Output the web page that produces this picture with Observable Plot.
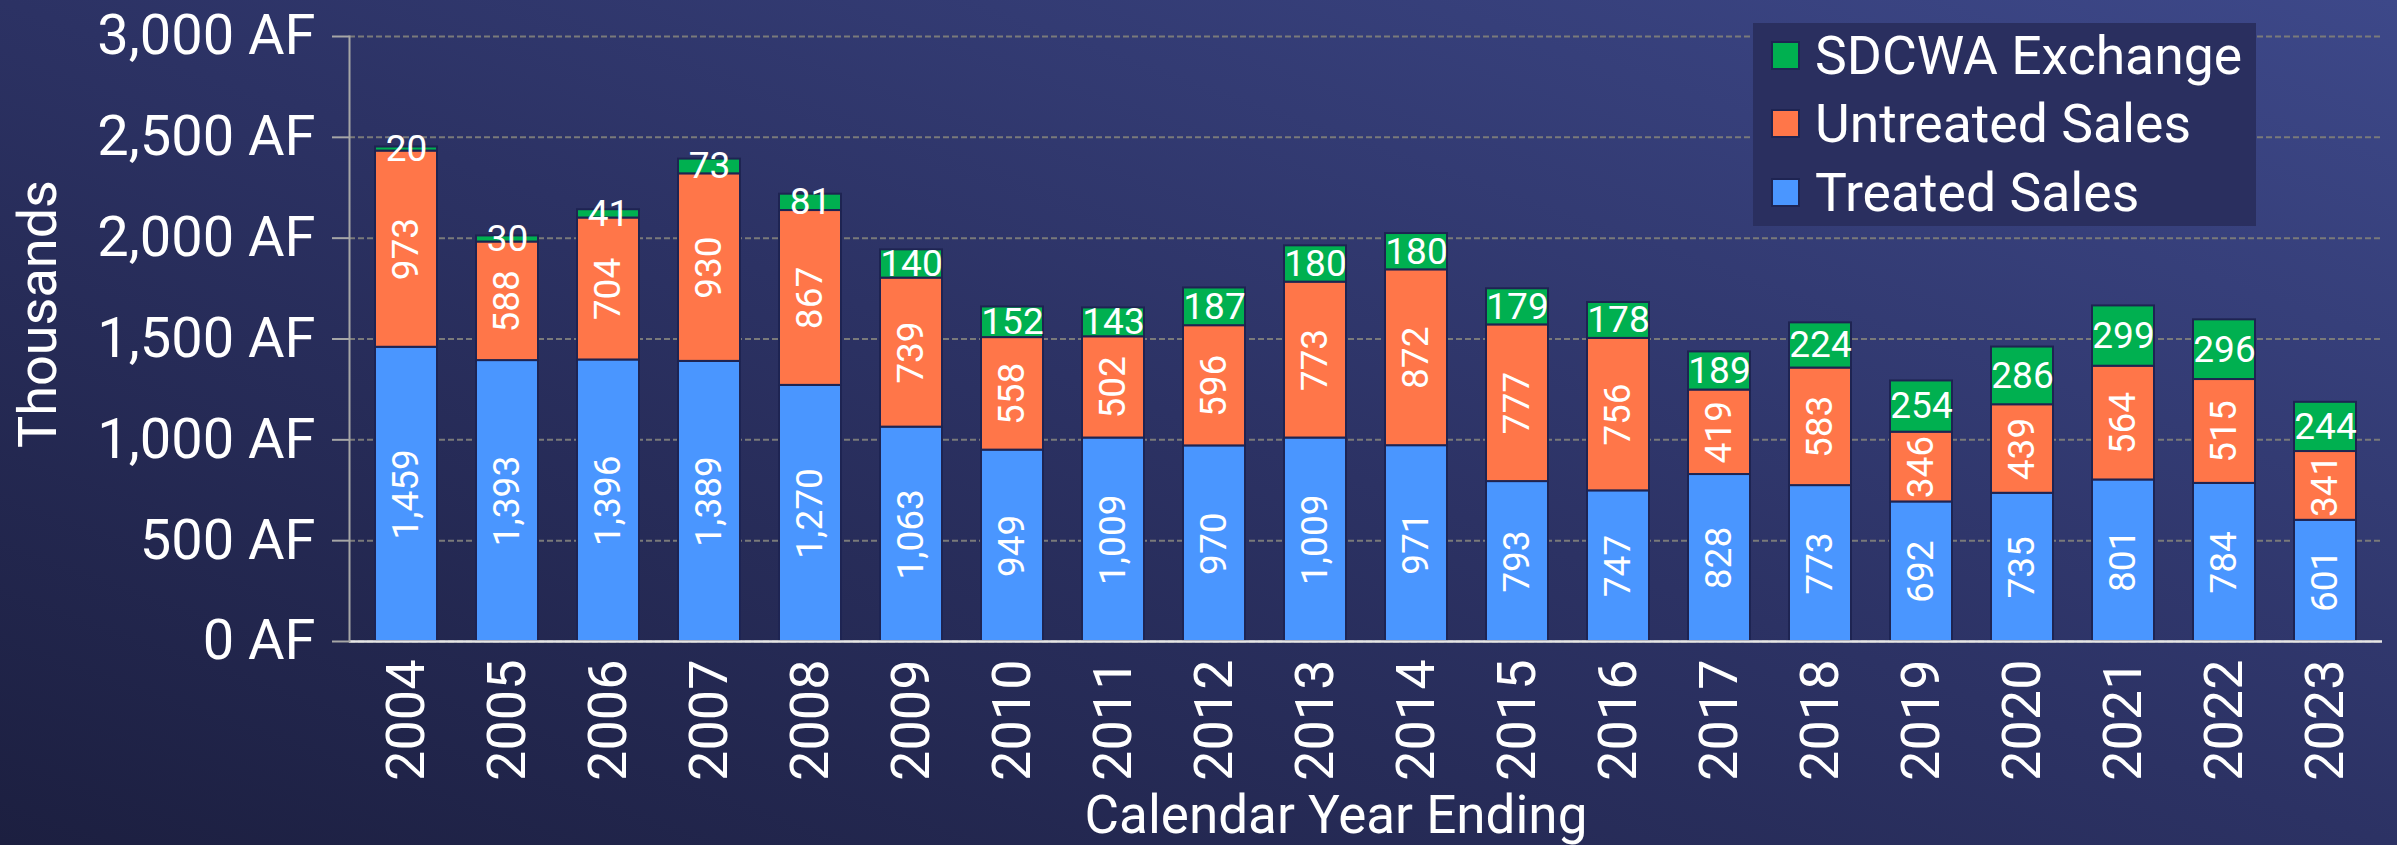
<!DOCTYPE html>
<html><head><meta charset="utf-8">
<script src="https://cdn.jsdelivr.net/npm/d3@7"></script>
<script src="https://cdn.jsdelivr.net/npm/@observablehq/plot@0.6"></script>
<style>
html,body{margin:0;padding:0;}
body{width:2397px;height:845px;overflow:hidden;background:linear-gradient(to top right,#1c1f40 0%,#2c3264 50%,#3d4889 100%);font-family:Roboto,sans-serif;position:relative;}
#chart{position:absolute;left:0;top:0;}
#legend{position:absolute;left:1753px;top:23px;width:503px;height:203px;background:#2a2f5f;}
.item{position:absolute;left:18px;height:60px;display:flex;align-items:center;color:#fff;font-size:53.5px;white-space:nowrap;}
.sw{width:25px;height:25px;border:2px solid #1e2452;margin-right:15px;}
</style></head>
<body><div id="chart"></div><div id="legend"></div>
<script>
const years = ["2004","2005","2006","2007","2008","2009","2010","2011","2012","2013","2014","2015","2016","2017","2018","2019","2020","2021","2022","2023"];
const treatedSales = [1459,1393,1396,1389,1270,1063,949,1009,970,1009,971,793,747,828,773,692,735,801,784,601];
const untreatedSales = [973,588,704,930,867,739,558,502,596,773,872,777,756,419,583,346,439,564,515,341];
const sdcwaExchange = [20,30,41,73,81,140,152,143,187,180,180,179,178,189,224,254,286,299,296,244];
const seriesNames = ["Treated Sales","Untreated Sales","SDCWA Exchange"];
const seriesColors = ["#4a96ff","#ff7649","#00b050"];
const yTicks = [0,500,1000,1500,2000,2500,3000];
const yTitle = "Thousands";
const xTitle = "Calendar Year Ending";

const seriesValues = [treatedSales, untreatedSales, sdcwaExchange];
const rows = [];
years.forEach((yr, i) => {
  let base = 0;
  seriesNames.forEach((name, k) => {
    const v = seriesValues[k][i];
    rows.push({year: yr, series: name, value: v, y1: base, y2: base + v});
    base += v;
  });
});
const fmt = d3.format(",");

const chart = Plot.plot({
  width: 2397, height: 845,
  marginLeft: 349, marginRight: 15, marginTop: 36, marginBottom: 204,
  style: {background: "transparent", color: "#fff", fontFamily: "Roboto, sans-serif", overflow: "visible"},
  x: {domain: years, paddingInner: 0.39, paddingOuter: 0.195, label: null},
  y: {domain: [0, 3000], label: null},
  color: {domain: seriesNames, range: seriesColors},
  marks: [
    Plot.gridY({ticks: yTicks, stroke: "#7a7a7a", strokeOpacity: 1, strokeDasharray: "6,3", strokeWidth: 2}),
    Plot.barY(rows, {x: "year", y1: "y1", y2: "y2", fill: "series", stroke: "#1e2452", strokeWidth: 2}),
    Plot.ruleY([0], {stroke: "#e6e6e6", strokeWidth: 2.5}),
    Plot.frame({anchor: "left", stroke: "#a6a6a6", strokeWidth: 2}),
    Plot.axisY({ticks: yTicks, tickSize: 17, tickPadding: 17, tickFormat: d => fmt(d) + " AF", fontSize: 56, stroke: "#a6a6a6", strokeWidth: 2, label: null}),
    Plot.axisX({tickRotate: -90, tickSize: 0, tickPadding: 18, fontSize: 54, label: null}),
    Plot.text(rows.filter(r => r.series !== "SDCWA Exchange"), {x: "year", y: d => (d.y1 + d.y2) / 2, text: d => fmt(d.value), rotate: -90, fill: "#fff", fontSize: 37}),
    Plot.text(rows.filter(r => r.series === "SDCWA Exchange"), {x: "year", y: d => (d.y1 + d.y2) / 2, text: d => fmt(d.value), fill: "#fff", fontSize: 37}),
    Plot.text([yTitle], {frameAnchor: "left", textAnchor: "middle", lineAnchor: "middle", dx: -311, dy: -25, rotate: -90, fontSize: 54, fill: "#fff"}),
    Plot.text([xTitle], {frameAnchor: "bottom", textAnchor: "middle", lineAnchor: "middle", dx: -30, dy: 175, fontSize: 53, fill: "#fff"})
  ]
});
document.getElementById("chart").appendChild(chart);

const legend = document.getElementById("legend");
const legendOrder = [2, 1, 0];
const legendTops = [2, 70, 139];
legendOrder.forEach((k, j) => {
  const it = document.createElement("div");
  it.className = "item";
  it.style.top = legendTops[j] + "px";
  const sw = document.createElement("div");
  sw.className = "sw";
  sw.style.background = seriesColors[k];
  const tx = document.createElement("span");
  tx.textContent = seriesNames[k];
  it.appendChild(sw); it.appendChild(tx);
  legend.appendChild(it);
});
</script>
</body></html>
